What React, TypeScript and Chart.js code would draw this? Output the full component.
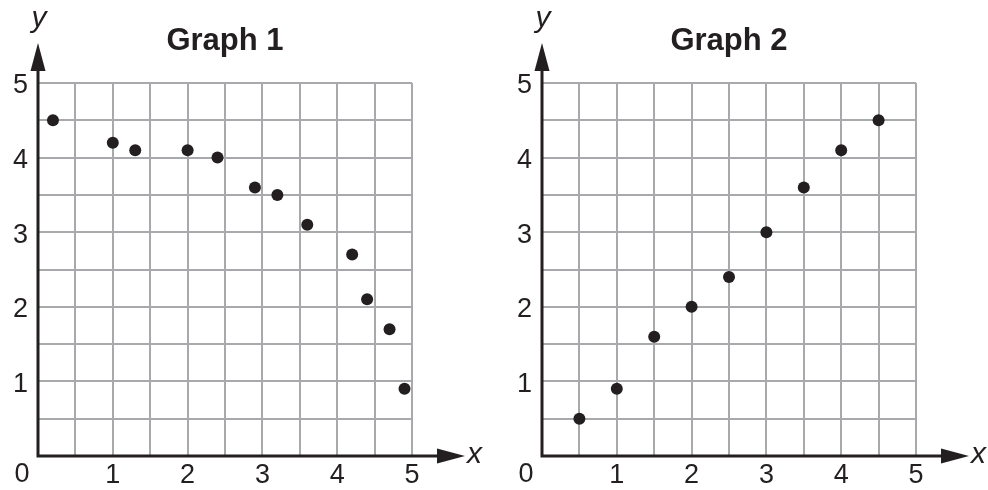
import React, { useEffect, useRef } from "react";
import { Chart, registerables } from "chart.js";

Chart.register(...registerables);

// ---- data ----
const graph1X = [0.2, 1, 1.3, 2, 2.4, 2.9, 3.2, 3.6, 4.2, 4.4, 4.7, 4.9];
const graph1Y = [4.5, 4.2, 4.1, 4.1, 4.0, 3.6, 3.5, 3.1, 2.7, 2.1, 1.7, 0.9];
const graph2X = [0.5, 1, 1.5, 2, 2.5, 3, 3.5, 4, 4.5];
const graph2Y = [0.5, 0.9, 1.6, 2.0, 2.4, 3.0, 3.6, 4.1, 4.5];
const graphTitles = ["Graph 1", "Graph 2"];
const axisMin = 0;
const axisMax = 5;
const gridStep = 0.5;
const originLabel = "0";
const xAxisName = "x";
const yAxisName = "y";

const INK = "#231f20";
const GRID = "#a7a9ac";
const FONT = '"Liberation Sans", Arial, Helvetica, sans-serif';

const CANVAS_W = 484;
const CANVAS_H = 490;

const tickLabel = (v: number | string) => {
  const n = Number(v);
  if (n === 0) return "";
  return Number.isInteger(n) ? String(n) : "";
};

const axesPlugin = {
  id: "axesArrows",
  afterDraw(chart: any) {
    const { ctx } = chart;
    const xs = chart.scales.x;
    const ys = chart.scales.y;
    const ox = xs.getPixelForValue(axisMin);
    const oy = ys.getPixelForValue(axisMin);
    const xEnd = xs.getPixelForValue(axisMax);
    const yEnd = ys.getPixelForValue(axisMax);
    const tipX = xEnd + 53;
    const tipY = yEnd - 40;
    const headLen = 28;
    const half = 7.5;
    ctx.save();
    ctx.strokeStyle = INK;
    ctx.fillStyle = INK;
    ctx.lineWidth = 3;
    ctx.lineJoin = "miter";
    ctx.beginPath();
    ctx.moveTo(ox, tipY + headLen - 2);
    ctx.lineTo(ox, oy);
    ctx.lineTo(tipX - headLen + 2, oy);
    ctx.stroke();
    // y arrow head
    ctx.beginPath();
    ctx.moveTo(ox, tipY);
    ctx.lineTo(ox - half, tipY + headLen);
    ctx.lineTo(ox + half, tipY + headLen);
    ctx.closePath();
    ctx.fill();
    // x arrow head
    ctx.beginPath();
    ctx.moveTo(tipX, oy);
    ctx.lineTo(tipX - headLen, oy - half);
    ctx.lineTo(tipX - headLen, oy + half);
    ctx.closePath();
    ctx.fill();
    // axis names
    ctx.font = `italic 30px ${FONT}`;
    ctx.textAlign = "center";
    ctx.textBaseline = "alphabetic";
    ctx.fillText(yAxisName, ox + 1, tipY - 16);
    ctx.textAlign = "left";
    ctx.fillText(xAxisName, tipX + 2, oy + 7);
    // origin label
    ctx.font = `27px ${FONT}`;
    ctx.textAlign = "center";
    ctx.textBaseline = "middle";
    ctx.fillText(originLabel, ox - 16, oy + 19);
    ctx.restore();
  },
};

function ScatterPanel({ title, xs, ys, left }: { title: string; xs: number[]; ys: number[]; left: number }) {
  const ref = useRef<HTMLCanvasElement | null>(null);
  useEffect(() => {
    if (!ref.current) return;
    const points = xs.map((x, i) => ({ x, y: ys[i] }));
    const tickFont = { family: FONT, size: 27 };
    const chart = new Chart(ref.current, {
      type: "scatter",
      data: {
        datasets: [
          {
            data: points,
            backgroundColor: INK,
            borderWidth: 0,
            pointRadius: 6,
            pointHoverRadius: 6,
          },
        ],
      },
      plugins: [axesPlugin],
      options: {
        animation: false,
        responsive: false,
        events: [],
        layout: { padding: { left: 0, right: 72, top: 0, bottom: 0 } },
        plugins: {
          legend: { display: false },
          tooltip: { enabled: false },
          title: {
            display: true,
            text: title,
            fullSize: false,
            color: INK,
            font: { family: FONT, size: 31, weight: "bold" },
            padding: { top: 23, bottom: 22.8 },
          },
        },
        scales: {
          x: {
            type: "linear",
            min: axisMin,
            max: axisMax,
            border: { display: false },
            grid: { color: GRID, lineWidth: 2, drawTicks: false },
            ticks: {
              stepSize: gridStep,
              autoSkip: false,
              maxRotation: 0,
              padding: 3,
              color: INK,
              font: tickFont,
              callback: tickLabel,
            },
            afterFit: (s: any) => {
              s.height = 34;
            },
          },
          y: {
            type: "linear",
            min: axisMin,
            max: axisMax,
            border: { display: false },
            grid: { color: GRID, lineWidth: 2, drawTicks: false },
            ticks: {
              stepSize: gridStep,
              autoSkip: false,
              padding: 10,
              labelOffset: 3,
              color: INK,
              font: tickFont,
              callback: tickLabel,
            },
            afterFit: (s: any) => {
              s.width = 38;
            },
          },
        },
      } as any,
    });
    return () => chart.destroy();
  }, [title, xs, ys]);
  return (
    <div style={{ position: "absolute", left, top: 0, width: CANVAS_W, height: CANVAS_H }}>
      <canvas ref={ref} width={CANVAS_W} height={CANVAS_H} style={{ display: "block" }} />
    </div>
  );
}

export default function App() {
  return (
    <div style={{ position: "absolute", left: 0, top: 0, width: 988, height: 490, background: "#fff", overflow: "hidden" }}>
      <ScatterPanel title={graphTitles[0]} xs={graph1X} ys={graph1Y} left={0} />
      <ScatterPanel title={graphTitles[1]} xs={graph2X} ys={graph2Y} left={504} />
    </div>
  );
}
